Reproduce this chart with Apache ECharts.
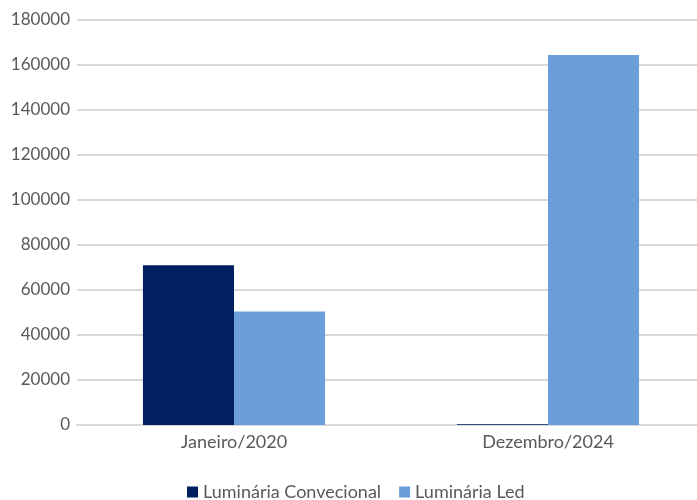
<!DOCTYPE html>
<html>
<head>
<meta charset="utf-8">
<script src="https://cdn.jsdelivr.net/npm/echarts@6/dist/echarts.min.js"></script>
<style>
  html, body { margin: 0; padding: 0; background: #fff; overflow: hidden; }
  #main { width: 705px; height: 500px; }
</style>
</head>
<body>
<div id="main"></div>
<script>
var categories = ['Janeiro/2020', 'Dezembro/2024'];
var convencional = [71000, 300];
var led = [50500, 164500];
var seriesNames = ['Luminária Convecional', 'Luminária Led'];

var myChart = echarts.init(document.getElementById('main'));

var option = {
    animation: false,
    textStyle: { fontFamily: 'Lato' },
    grid: { left: 77, right: 0, top: 20, height: 405 },
    legend: {
        data: seriesNames,
        top: 478,
        left: 182,
        itemWidth: 11,
        itemHeight: 11,
        itemGap: 18,
        icon: 'rect',
        textStyle: { color: '#595959', fontSize: 18, fontFamily: 'Lato' }
    },
    xAxis: {
        type: 'category',
        data: categories,
        axisLine: { lineStyle: { color: '#d9d9d9', width: 2 } },
        axisTick: { show: false },
        axisLabel: { color: '#595959', fontSize: 18, margin: 8 }
    },
    yAxis: {
        type: 'value',
        min: 0,
        max: 180000,
        interval: 20000,
        axisLine: { show: false },
        axisTick: { show: false },
        axisLabel: {
            color: '#595959',
            fontSize: 17,
            margin: 7,
            formatter: function (v) { return String(v); }
        },
        splitLine: { lineStyle: { color: '#d9d9d9', width: 2 } }
    },
    series: [
        {
            name: seriesNames[0],
            type: 'bar',
            data: convencional,
            barGap: 0,
            barCategoryGap: '42%',
            itemStyle: { color: '#002060' }
        },
        {
            name: seriesNames[1],
            type: 'bar',
            data: led,
            barGap: 0,
            barCategoryGap: '42%',
            itemStyle: { color: '#6c9fd9' }
        }
    ]
};

myChart.setOption(option);
window.onresize = myChart.resize;
</script>
</body>
</html>
